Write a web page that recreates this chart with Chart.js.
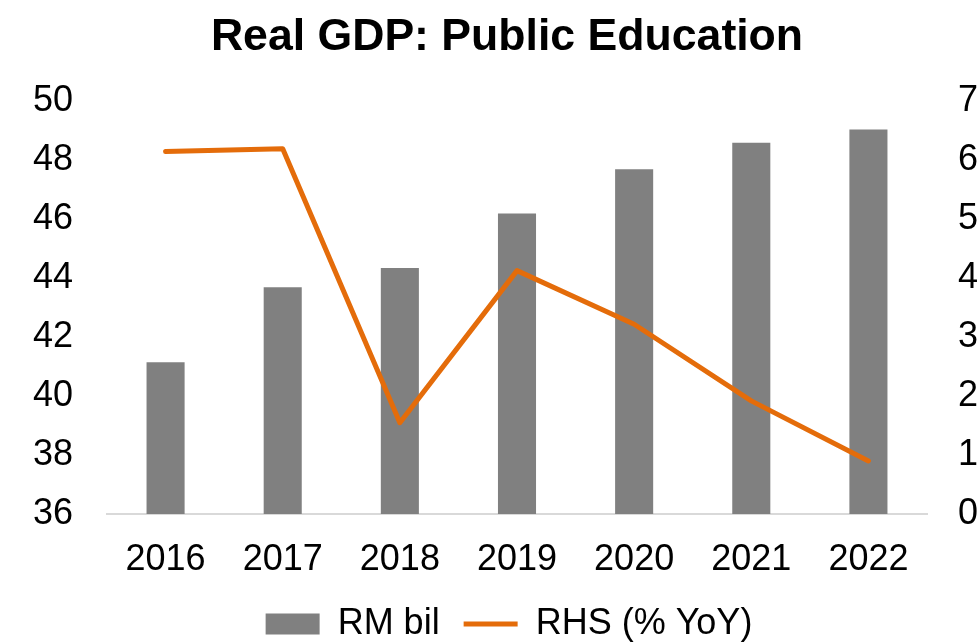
<!DOCTYPE html>
<html>
<head>
<meta charset="utf-8">
<script src="https://cdn.jsdelivr.net/npm/chart.js@4"></script>
<style>
  html, body { margin: 0; padding: 0; background: #fff; }
  #wrap { width: 980px; height: 642px; position: relative; }
</style>
</head>
<body>
<div id="wrap"><canvas id="chart"></canvas></div>
<script>
var years = ['2016', '2017', '2018', '2019', '2020', '2021', '2022'];
var rmBil = [41.15, 43.7, 44.35, 46.2, 47.7, 48.6, 49.05];
var yoy = [6.15, 6.2, 1.55, 4.13, 3.22, 1.92, 0.9];
var leftTicks = [36, 38, 40, 42, 44, 46, 48, 50];
var rightTicks = [0, 1, 2, 3, 4, 5, 6, 7];

Chart.defaults.font.family = '"Liberation Sans", Arial, sans-serif';
Chart.defaults.color = '#000';

// title and legend in the original sit a little right of the canvas centre
var shiftBoxes = {
  id: 'shiftBoxes',
  afterLayout: function (c) {
    if (c.titleBlock) {
      c.titleBlock.left += 17;
      c.titleBlock.right += 17;
    }
    if (c.legend) {
      c.legend.left += 19;
      c.legend.right += 19;
    }
  }
};

var ctx = document.getElementById('chart').getContext('2d');
var chart = new Chart(ctx, {
  type: 'bar',
  plugins: [shiftBoxes],
  data: {
    labels: years,
    datasets: [{
      type: 'bar',
      label: 'RM bil',
      data: rmBil,
      backgroundColor: '#808080',
      borderWidth: 0,
      barPercentage: 0.325,
      categoryPercentage: 1,
      yAxisID: 'y',
      pointStyle: 'rect',
      order: 2
    }, {
      type: 'line',
      label: 'RHS (% YoY)',
      data: yoy,
      borderColor: '#E46C0A',
      backgroundColor: '#E46C0A',
      borderWidth: 5,
      pointRadius: 0,
      borderCapStyle: 'round',
      borderJoinStyle: 'round',
      tension: 0,
      yAxisID: 'y1',
      pointStyle: 'line',
      order: 1
    }]
  },
  options: {
    responsive: true,
    maintainAspectRatio: false,
    animation: false,
    layout: { padding: { top: 11, bottom: -10, left: 0, right: 0 } },
    plugins: {
      tooltip: { enabled: false },
      title: {
        display: true,
        text: 'Real GDP: Public Education',
        font: { size: 44.6, weight: 'bold' },
        padding: { top: 0, bottom: 37 }
      },
      legend: {
        position: 'bottom',
        labels: {
          font: { size: 36 },
          usePointStyle: true,
          pointStyleWidth: 54,
          boxHeight: 21,
          padding: 24,
          sort: function (a, b) { return a.datasetIndex - b.datasetIndex; },
          generateLabels: function (c) {
            var items = Chart.defaults.plugins.legend.labels.generateLabels(c);
            items.forEach(function (it) {
              var ds = c.data.datasets[it.datasetIndex];
              it.pointStyle = ds.pointStyle;
              it.lineWidth = ds.type === 'line' ? 5 : 0;
              it.strokeStyle = ds.borderColor || ds.backgroundColor;
            });
            return items;
          }
        }
      }
    },
    scales: {
      x: {
        grid: { display: false, drawTicks: false },
        border: { display: true, color: '#d9d9d9', width: 2 },
        ticks: { font: { size: 36 }, padding: 24 },
        afterFit: function (s) { s.height = 68; }
      },
      y: {
        position: 'left',
        min: 36,
        max: 50,
        afterBuildTicks: function (s) { s.ticks = leftTicks.map(function (v) { return { value: v }; }); },
        afterFit: function (s) { s.width = 107; },
        grid: { display: false, drawTicks: false },
        border: { display: false },
        ticks: { font: { size: 36 }, padding: 34 }
      },
      y1: {
        position: 'right',
        min: 0,
        max: 7,
        afterBuildTicks: function (s) { s.ticks = rightTicks.map(function (v) { return { value: v }; }); },
        afterFit: function (s) { s.width = 53; },
        grid: { display: false, drawTicks: false },
        border: { display: false },
        ticks: { font: { size: 36 }, padding: 31 }
      }
    }
  }
});
</script>
</body>
</html>
